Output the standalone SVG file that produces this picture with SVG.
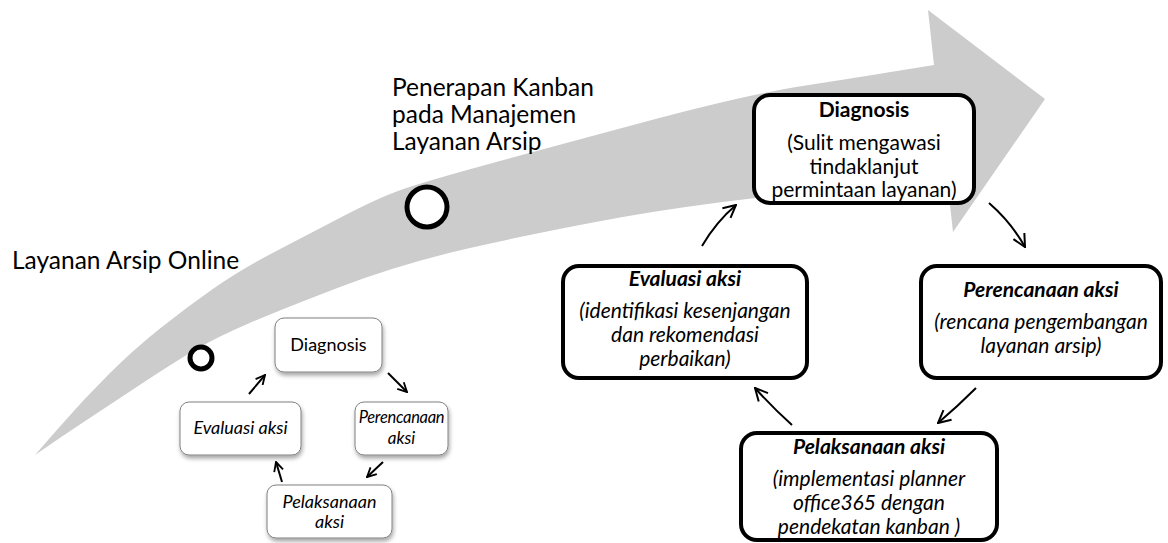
<svg xmlns="http://www.w3.org/2000/svg" width="1168" height="543" viewBox="0 0 1168 543">
<defs>
<style>
text{font-family:Lato,"Open Sans",sans-serif;fill:#000;}
.big{fill:#fff;stroke:#000;stroke-width:4;}
.sm{fill:#fff;stroke:#808080;stroke-width:1;filter:url(#sh);}
.t20{font-size:21px;text-anchor:middle;}
.t21{font-size:21px;text-anchor:middle;}
.t18{font-size:18px;text-anchor:middle;}
.b{font-weight:bold;}
.i{font-style:italic;}
.con{fill:none;stroke:#000;stroke-width:2;}
.head{font-size:24.5px;}
</style>
<filter id="sh" x="-20%" y="-20%" width="140%" height="160%">
<feDropShadow dx="1" dy="3" stdDeviation="2" flood-color="#000" flood-opacity="0.35"/>
</filter>
<marker id="ah" viewBox="0 0 12 12" refX="11" refY="6" markerWidth="15" markerHeight="15" markerUnits="userSpaceOnUse" orient="auto">
<path d="M1,1 L11,6 L1,11" fill="none" stroke="#000" stroke-width="1.6"/>
</marker>
<marker id="ahs" viewBox="0 0 12 12" refX="11" refY="6" markerWidth="11" markerHeight="11" markerUnits="userSpaceOnUse" orient="auto">
<path d="M1,1 L11,6 L1,11" fill="none" stroke="#000" stroke-width="2"/>
</marker>
</defs>

<g id="bigarrow">
<path fill="#cccccc" d="M35,455 L59,427.5 Q83,400 108,375 Q133,350 160,328.5 Q187,307 213.5,288.5 Q240,270 273.5,252.5 Q307,235 343.5,216 Q380,197 403.5,189 Q427,181 483.5,165.5 Q540,150 642.5,122.5 Q745,95 802.5,86 Q860,77 897,71 L934,65 L928,10 L1045,99 L953,232 L947,178 L823.5,190.5 Q700,203 620,217.5 Q540,232 470,248 Q400,264 340,287 Q280,310 248.5,323.5 Q217,337 195,350 Q173,363 145,381.5 Q117,400 92,416.5 Q67,433 51,444 L35,455 Z"/>
</g>

<g id="labels">
<text class="head" x="12" y="269">Layanan Arsip Online</text>
<text class="head" x="392" y="96">Penerapan Kanban</text>
<text class="head" x="392" y="123">pada Manajemen</text>
<text class="head" x="392" y="150">Layanan Arsip</text>
</g>

<g id="milestone-small"><circle cx="201" cy="358" r="11" fill="#fff" stroke="#000" stroke-width="5"/></g>
<g id="milestone-big"><circle cx="427" cy="207" r="20" fill="#fff" stroke="#000" stroke-width="5"/></g>

<g id="connectors">
<line class="con" x1="249" y1="394" x2="265" y2="375" marker-end="url(#ahs)"/>
<line class="con" x1="388" y1="373" x2="407" y2="392" marker-end="url(#ahs)"/>
<line class="con" x1="383" y1="462" x2="367" y2="477" marker-end="url(#ahs)"/>
<line class="con" x1="282" y1="482" x2="276" y2="462" marker-end="url(#ahs)"/>
<path class="con" d="M702,246 Q716,222 736,205" marker-end="url(#ah)"/>
<path class="con" d="M989,203 Q1011,222 1025,247" marker-end="url(#ah)"/>
<path class="con" d="M976,388 Q958,406 938,423" marker-end="url(#ah)"/>
<path class="con" d="M792,425 Q773,408 755,388" marker-end="url(#ah)"/>
</g>

<g id="s-diagnosis">
<rect class="sm" x="275" y="318" width="107" height="54" rx="9"/>
<text class="t18" x="328.5" y="351">Diagnosis</text>
</g>
<g id="s-evaluasi">
<rect class="sm" x="180" y="402" width="121" height="53" rx="9"/>
<text class="t18 i" x="240.5" y="434">Evaluasi aksi</text>
</g>
<g id="s-perencanaan">
<rect class="sm" x="355" y="402" width="93" height="53" rx="9"/>
<text class="t18 i" x="401.5" y="423" style="font-size:16.5px;letter-spacing:-0.3px">Perencanaan</text>
<text class="t18 i" x="401.5" y="444" style="font-size:17px">aksi</text>
</g>
<g id="s-pelaksanaan">
<rect class="sm" x="267" y="485" width="125" height="53" rx="9"/>
<text class="t18 i" x="329.5" y="508">Pelaksanaan</text>
<text class="t18 i" x="329.5" y="528">aksi</text>
</g>

<g id="b-diagnosis">
<rect class="big" x="754" y="95" width="220" height="108" rx="16"/>
<text class="t21 b" x="864" y="117">Diagnosis</text>
<text class="t21" x="864" y="150">(Sulit mengawasi</text>
<text class="t21" x="864" y="174">tindaklanjut</text>
<text class="t21" x="864" y="197">permintaan layanan)</text>
</g>
<g id="b-evaluasi">
<rect class="big" x="563" y="266" width="244" height="112" rx="16"/>
<text class="t20 b i" x="685" y="286">Evaluasi aksi</text>
<text class="t20 i" x="685" y="318">(identifikasi kesenjangan</text>
<text class="t20 i" x="685" y="342">dan rekomendasi</text>
<text class="t20 i" x="685" y="366">perbaikan)</text>
</g>
<g id="b-perencanaan">
<rect class="big" x="921" y="266" width="240" height="112" rx="16"/>
<text class="t20 b i" x="1041" y="297">Perencanaan aksi</text>
<text class="t20 i" x="1041" y="329">(rencana pengembangan</text>
<text class="t20 i" x="1041" y="353">layanan arsip)</text>
</g>
<g id="b-pelaksanaan">
<rect class="big" x="741" y="433" width="256" height="107" rx="16"/>
<text class="t20 b i" x="869" y="454">Pelaksanaan aksi</text>
<text class="t20 i" x="869" y="486">(implementasi planner</text>
<text class="t20 i" x="869" y="510">office365 dengan</text>
<text class="t20 i" x="869" y="534">pendekatan kanban )</text>
</g>
</svg>
